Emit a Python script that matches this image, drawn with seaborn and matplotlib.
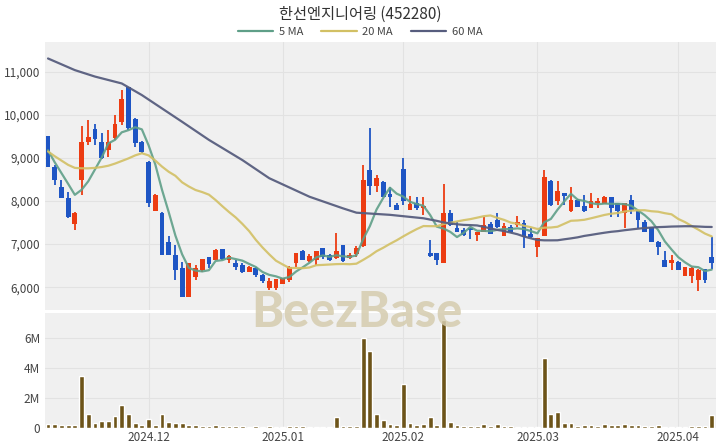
import numpy as np
import pandas as pd
import matplotlib
matplotlib.use("Agg")
import matplotlib.pyplot as plt
from matplotlib.lines import Line2D
import seaborn as sns

title = "한선엔지니어링 (452280)"
month_labels = ["2024.12", "2025.01", "2025.02", "2025.03", "2025.04"]
month_pos = [15, 35, 53, 73, 94]

# daily candles, 2024-11-11 .. 2025-04
opens = [9500, 8780, 8320, 8060, 7470, 8490, 9380, 9670, 9380, 9190,
         9460, 9840, 10640, 9900, 9370, 8910, 7780, 7720, 7050, 6750,
         6440, 5780, 6240, 6390, 6700, 6630, 6880, 6620, 6570, 6520,
         6360, 6440, 6290, 5980, 5980, 6080, 6170, 6560, 6850, 6600,
         6640, 6900, 6750, 6670, 6980, 6680, 6780, 6960, 8720, 8340,
         8450, 8160, 7910, 8740, 7800, 7960, 7840, 6790, 6790, 6570,
         7730, 7370, 7330, 7370, 7220, 7290, 7470, 7560, 7190, 7400,
         7450, 7500, 7240, 6930, 7190, 8470, 8010, 8180, 7760, 8020,
         7890, 7840, 7950, 7930, 8090, 7950, 7720, 8020, 7760, 7520,
         7390, 7060, 6620, 6560, 6590, 6260, 6260, 6170, 6420, 6710]
highs = [9520, 8840, 8490, 8200, 7740, 9740, 9880, 9800, 9570, 9650,
         10000, 10580, 10650, 9920, 9390, 8920, 8160, 7750, 7190, 6980,
         6590, 6560, 6520, 6660, 6710, 6880, 6890, 6740, 6640, 6560,
         6490, 6480, 6300, 6210, 6200, 6220, 6490, 6800, 6860, 6760,
         6840, 6910, 6770, 7250, 6990, 6790, 6950, 8840, 9690, 8600,
         8460, 8330, 7960, 8990, 8120, 8100, 8100, 7100, 6800, 8400,
         7800, 7520, 7370, 7380, 7290, 7620, 7520, 7720, 7480, 7450,
         7650, 7560, 7370, 7150, 8710, 8490, 8470, 8190, 8330, 8040,
         8140, 8180, 8070, 8120, 8100, 7960, 7960, 8140, 7780, 7560,
         7400, 7070, 6850, 6750, 6610, 6480, 6460, 6420, 6430, 7160]
lows = [8780, 8380, 8060, 7600, 7330, 8140, 9300, 9300, 8980, 9030,
        9420, 9760, 9650, 9260, 9120, 7860, 7770, 6740, 6740, 6170,
        5780, 5780, 6170, 6360, 6450, 6620, 6630, 6560, 6400, 6340,
        6350, 6230, 6090, 5940, 5940, 6070, 6130, 6480, 6630, 6580,
        6510, 6660, 6610, 6650, 6590, 6660, 6690, 6940, 8140, 8220,
        8090, 7870, 7790, 7910, 7790, 7790, 7680, 6710, 6520, 6570,
        7420, 7280, 7180, 7120, 7080, 7280, 7230, 7380, 7180, 7260,
        7400, 6910, 7150, 6710, 7180, 7880, 7910, 7910, 7750, 7860,
        7750, 7830, 7830, 7920, 7640, 7640, 7370, 7700, 7370, 7280,
        7050, 6750, 6470, 6400, 6390, 6250, 6090, 5920, 6090, 6420]
closes = [8800, 8500, 8070, 7620, 7730, 9380, 9490, 9440, 9000, 9380,
          9800, 10360, 9690, 9340, 9130, 7950, 8140, 6750, 6750, 6400,
          5780, 6560, 6440, 6650, 6540, 6860, 6650, 6730, 6480, 6360,
          6480, 6290, 6150, 6150, 6190, 6210, 6480, 6790, 6640, 6720,
          6830, 6710, 6620, 6830, 6600, 6750, 6900, 8490, 8340, 8530,
          8100, 8090, 7800, 7990, 7930, 7840, 7890, 6730, 6630, 7720,
          7450, 7290, 7220, 7320, 7270, 7440, 7240, 7390, 7410, 7270,
          7520, 7160, 7160, 7140, 8550, 7910, 8240, 8120, 8020, 7870,
          7760, 7990, 7990, 8100, 7840, 7760, 7950, 7800, 7560, 7290,
          7060, 6930, 6480, 6620, 6400, 6460, 6440, 6400, 6170, 6570]
volume_m = [0.27, 0.27, 0.16, 0.16, 0.18, 3.45, 0.89, 0.33, 0.44, 0.44,
            0.82, 1.51, 0.89, 0.33, 0.16, 0.62, 0.22, 0.89, 0.38, 0.33,
            0.29, 0.22, 0.16, 0.11, 0.09, 0.18, 0.09, 0.11, 0.09, 0.09,
            0.07, 0.09, 0.07, 0.09, 0.07, 0.05, 0.11, 0.13, 0.09, 0.07,
            0.07, 0.05, 0.05, 0.71, 0.09, 0.09, 0.11, 5.96, 5.11, 0.93,
            0.49, 0.27, 0.18, 2.93, 0.29, 0.18, 0.27, 0.71, 0.16, 7.16,
            0.40, 0.18, 0.09, 0.09, 0.09, 0.27, 0.13, 0.27, 0.09, 0.09,
            0.07, 0.07, 0.05, 0.07, 4.67, 0.93, 1.07, 0.31, 0.31, 0.13,
            0.22, 0.22, 0.13, 0.27, 0.16, 0.16, 0.24, 0.16, 0.16, 0.13,
            0.13, 0.16, 0.04, 0.04, 0.04, 0.04, 0.13, 0.13, 0.09, 0.87]

ma5_head = [9180, 8900, 8650, 8400]
ma20_head = [9150, 9040, 8940, 8840, 8770, 8760, 8760, 8770, 8790, 8820,
             8870, 8930, 8990, 9060, 9110, 9060, 8940, 8800, 8680]
ma60_head_idx = [0, 4, 7, 11, 14, 20, 24, 29, 33, 39, 44, 46, 51, 56, 58]
ma60_head_val = [11310, 11040, 10890, 10730, 10460, 9840, 9420, 8950, 8530,
                 8100, 7830, 7730, 7680, 7600, 7540]

UP = "#ec3c12"
DOWN = "#1e55c4"
VOL = "#6d5419"
C5, C20, C60 = "#5f9f88", "#d2c064", "#575d7e"

sns.set_theme(style="white")
plt.rcParams["font.family"] = ["Noto Sans CJK KR", "DejaVu Sans"]

df = pd.DataFrame({"open": opens, "high": highs, "low": lows,
                   "close": closes, "volume": np.array(volume_m) * 1e6})
df["idx"] = np.arange(len(df))

ma5 = df["close"].rolling(5).mean()
ma5.iloc[:4] = ma5_head
ma20 = df["close"].rolling(20).mean()
ma20.iloc[:19] = ma20_head
ma60_tail = df["close"].rolling(60).mean().iloc[59:]
ma60 = pd.DataFrame({"idx": ma60_head_idx + list(ma60_tail.index),
                     "val": ma60_head_val + list(ma60_tail.values)})

fig = plt.figure(figsize=(7.2, 4.48), dpi=100)
ax = fig.add_axes([0.0625, 0.308, 0.932, 0.598])
axv = fig.add_axes([0.0625, 0.045, 0.932, 0.256])

xlim = (-0.45, 99.64)
for a in (ax, axv):
    a.set_facecolor("#f0f0f0")
    for s in a.spines.values():
        s.set_visible(False)
    a.grid(True, color="#e2e2e2", lw=0.8)
    a.set_axisbelow(True)
    a.tick_params(length=0, labelsize=8.5, labelcolor="#444444")

# candles
up = df["close"] >= df["open"]
cols = np.where(up, UP, DOWN)
ax.vlines(df["idx"], df["low"], df["high"], color=cols, lw=1.3, zorder=2)
body_lo = df[["open", "close"]].min(axis=1)
body_h = (df["close"] - df["open"]).abs().clip(lower=18)
ax.bar(df["idx"], body_h, bottom=body_lo, width=0.72, color=cols,
       linewidth=0, zorder=3)

sns.lineplot(x=df["idx"], y=ma5, ax=ax, color=C5, lw=1.6, alpha=0.9, zorder=4)
sns.lineplot(x=df["idx"], y=ma20, ax=ax, color=C20, lw=1.6, alpha=0.9, zorder=4)
sns.lineplot(data=ma60, x="idx", y="val", ax=ax, color=C60, lw=1.6, alpha=0.95, zorder=4)

ax.set_xlim(*xlim)
ax.set_ylim(5470, 11690)
yt = [6000, 7000, 8000, 9000, 10000, 11000]
ax.set_yticks(yt, [f"{v:,}" for v in yt])
ax.set_xticks(month_pos)
ax.set_xticklabels([])
ax.set_xlabel("")
ax.set_ylabel("")

# volume
sns.barplot(data=df, x="idx", y="volume", ax=axv, native_scale=True,
            color=VOL, saturation=1, width=0.72, errorbar=None, zorder=3)
axv.set_xlim(*xlim)
axv.set_ylim(0, 7.65e6)
axv.set_yticks([0, 2e6, 4e6, 6e6], ["0", "2M", "4M", "6M"])
axv.set_xticks(month_pos, month_labels)
axv.tick_params(axis="x", pad=2)
axv.set_xlabel("")
axv.set_ylabel("")

fig.text(0.5, 0.969, title, ha="center", va="center", fontsize=11, color="#333333")
handles = [Line2D([], [], color=c, lw=1.6) for c in (C5, C20, C60)]
fig.legend(handles, ["5 MA", "20 MA", "60 MA"], loc="center",
           bbox_to_anchor=(0.5, 0.928), ncol=3, frameon=False, fontsize=8,
           handlelength=3.2, columnspacing=1.6, handletextpad=0.5,
           labelcolor="#444444")

fig.text(0.496, 0.302, "BeezBase", ha="center", va="center", fontsize=35,
         fontweight="black", family="Lato", color="#d5ccae", alpha=0.85)

fig.savefig("out.png", dpi=100)
